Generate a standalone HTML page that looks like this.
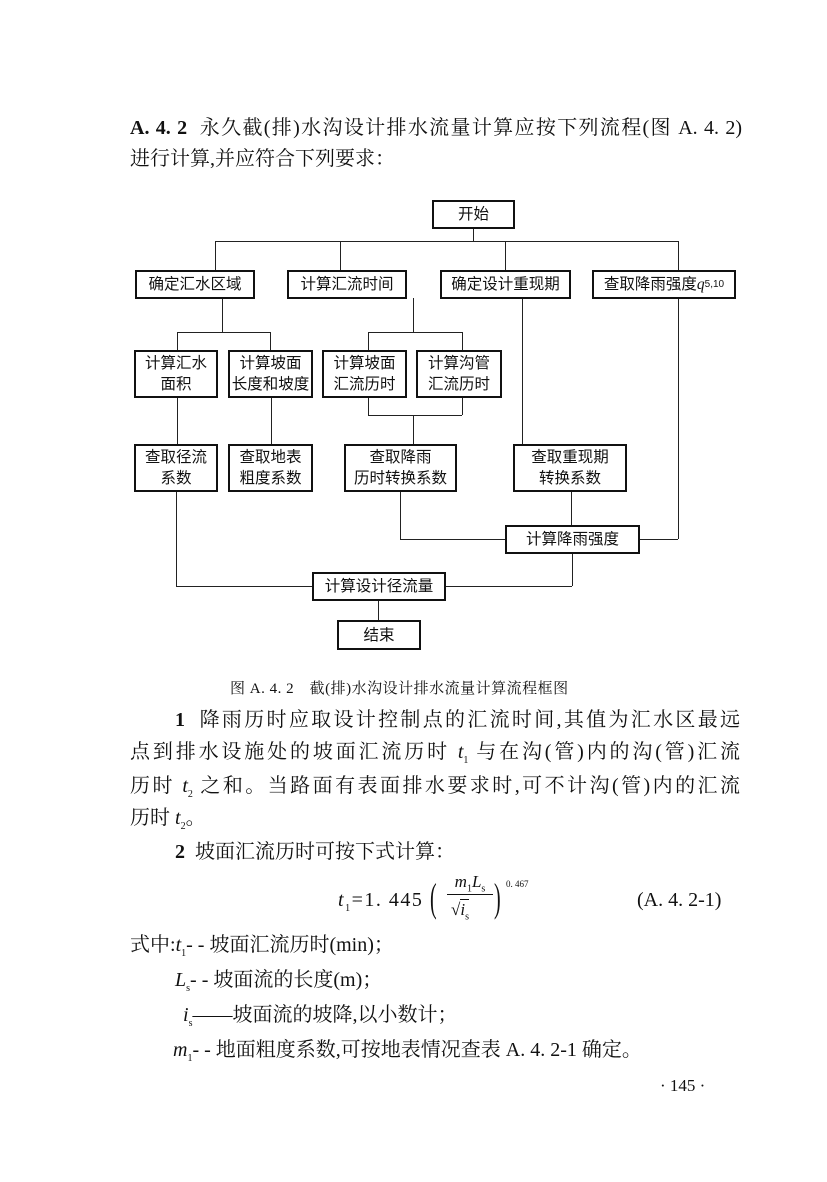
<!DOCTYPE html>
<html><head><meta charset="utf-8"><style>
body{margin:0;background:#fff;}
#p{position:relative;width:827px;height:1182px;overflow:hidden;font-family:"Liberation Serif","Noto Serif CJK SC",serif;color:#111;}
.t{position:absolute;font-size:20px;line-height:24px;white-space:nowrap;}
.j{text-align:justify;text-align-last:justify;}
.b{position:absolute;border:2.5px solid #111;box-sizing:border-box;background:#fff;display:flex;align-items:center;justify-content:center;text-align:center;font-family:"Liberation Sans","WenQuanYi Zen Hei","Noto Sans CJK SC",sans-serif;font-size:15.5px;line-height:21px;}
.h{position:absolute;height:0;border-top:1.3px solid #222;}
.v{position:absolute;width:0;border-left:1.3px solid #222;}
i{font-style:italic;}
sub{font-size:10px;}
</style></head><body><div id="p">
<div class="t j" style="left:130px;top:116px;width:612px;"><b>A. 4. 2</b>&nbsp;&nbsp;永久截(排)水沟设计排水流量计算应按下列流程(图 A. 4. 2)</div>
<div class="t" style="left:130px;top:147px;">进行计算,并应符合下列要求：</div>

<!-- connectors -->
<div class="v" style="left:473px;top:228px;height:13px"></div>
<div class="h" style="left:215px;top:241px;width:463px"></div>
<div class="v" style="left:215px;top:241px;height:29px"></div>
<div class="v" style="left:340px;top:241px;height:29px"></div>
<div class="v" style="left:505px;top:241px;height:29px"></div>
<div class="v" style="left:678px;top:241px;height:29px"></div>
<div class="v" style="left:222px;top:298px;height:34px"></div>
<div class="h" style="left:177px;top:332px;width:93px"></div>
<div class="v" style="left:177px;top:332px;height:20px"></div>
<div class="v" style="left:270px;top:332px;height:20px"></div>
<div class="v" style="left:413px;top:298px;height:34px"></div>
<div class="h" style="left:368px;top:332px;width:94px"></div>
<div class="v" style="left:368px;top:332px;height:83px"></div>
<div class="v" style="left:462px;top:332px;height:83px"></div>
<div class="h" style="left:368px;top:415px;width:94px"></div>
<div class="v" style="left:413px;top:415px;height:29px"></div>
<div class="v" style="left:177px;top:397px;height:47px"></div>
<div class="v" style="left:271px;top:397px;height:47px"></div>
<div class="v" style="left:522px;top:298px;height:146px"></div>
<div class="v" style="left:678px;top:298px;height:241px"></div>
<div class="h" style="left:640px;top:539px;width:38px"></div>
<div class="v" style="left:400px;top:491px;height:48px"></div>
<div class="h" style="left:400px;top:539px;width:106px"></div>
<div class="v" style="left:571px;top:491px;height:34px"></div>
<div class="v" style="left:176px;top:491px;height:95px"></div>
<div class="h" style="left:176px;top:586px;width:137px"></div>
<div class="v" style="left:572px;top:553px;height:33px"></div>
<div class="h" style="left:446px;top:586px;width:126px"></div>
<div class="v" style="left:378px;top:600px;height:20px"></div>

<!-- boxes -->
<div class="b" style="left:432px;top:200px;width:83px;height:29px">开始</div>
<div class="b" style="left:135px;top:270px;width:120px;height:29px">确定汇水区域</div>
<div class="b" style="left:287px;top:270px;width:120px;height:29px">计算汇流时间</div>
<div class="b" style="left:440px;top:270px;width:131px;height:29px">确定设计重现期</div>
<div class="b" style="left:592px;top:270px;width:144px;height:29px">查取降雨强度<i style="font-family:'Liberation Serif',serif">q</i><sub>5,10</sub></div>
<div class="b" style="left:134px;top:350px;width:84px;height:48px">计算汇水<br>面积</div>
<div class="b" style="left:228px;top:350px;width:85px;height:48px">计算坡面<br>长度和坡度</div>
<div class="b" style="left:322px;top:350px;width:85px;height:48px">计算坡面<br>汇流历时</div>
<div class="b" style="left:416px;top:350px;width:86px;height:48px">计算沟管<br>汇流历时</div>
<div class="b" style="left:134px;top:444px;width:84px;height:48px">查取径流<br>系数</div>
<div class="b" style="left:228px;top:444px;width:85px;height:48px">查取地表<br>粗度系数</div>
<div class="b" style="left:344px;top:444px;width:113px;height:48px">查取降雨<br>历时转换系数</div>
<div class="b" style="left:513px;top:444px;width:114px;height:48px">查取重现期<br>转换系数</div>
<div class="b" style="left:505px;top:525px;width:135px;height:29px">计算降雨强度</div>
<div class="b" style="left:312px;top:572px;width:134px;height:29px">计算设计径流量</div>
<div class="b" style="left:337px;top:620px;width:84px;height:30px">结束</div>

<div class="t" style="left:230px;top:677px;font-size:15px;letter-spacing:0.5px;">图 A. 4. 2　截(排)水沟设计排水流量计算流程框图</div>

<div class="t j" style="left:175px;top:708px;width:565px;"><b>1</b>&nbsp;&nbsp;降雨历时应取设计控制点的汇流时间,其值为汇水区最远</div>
<div class="t j" style="left:130px;top:740px;width:610px;">点到排水设施处的坡面汇流历时 <i>t</i><sub>1</sub> 与在沟(管)内的沟(管)汇流</div>
<div class="t j" style="left:130px;top:774px;width:610px;">历时 <i>t</i><sub>2</sub> 之和。当路面有表面排水要求时,可不计沟(管)内的汇流</div>
<div class="t" style="left:130px;top:806px;">历时 <i>t</i><sub>2</sub>。</div>
<div class="t" style="left:175px;top:840px;"><b>2</b>&nbsp;&nbsp;坡面汇流历时可按下式计算：</div>

<div class="t" style="left:338px;top:888px;letter-spacing:1.5px;"><i>t</i><sub>1</sub>=1. 445</div>
<div class="t" style="left:430px;top:876px;font-size:40px;line-height:44px;transform:scaleX(0.5);transform-origin:left;">(</div>
<div class="t" style="left:446px;top:870px;font-size:17px;width:48px;text-align:center;"><i>m</i><sub>1</sub><i>L</i><sub>s</sub></div>
<div class="h" style="left:447px;top:894px;width:46px;border-top:1px solid #111"></div>
<div class="t" style="left:451px;top:898px;font-size:17px;">√<span style="border-top:1px solid #111"><i>i</i><sub>s</sub></span></div>
<div class="t" style="left:494px;top:876px;font-size:40px;line-height:44px;transform:scaleX(0.5);transform-origin:left;">)</div>
<div class="t" style="left:506px;top:872px;font-size:9px;">0. 467</div>
<div class="t" style="left:637px;top:888px;">(A. 4. 2-1)</div>

<div class="t" style="left:130px;top:933px;">式中:<i>t</i><sub>1</sub>- - 坡面汇流历时(min)；</div>
<div class="t" style="left:175px;top:968px;"><i>L</i><sub>s</sub>- - 坡面流的长度(m)；</div>
<div class="t" style="left:183px;top:1003px;"><i>i</i><sub>s</sub>——坡面流的坡降,以小数计；</div>
<div class="t" style="left:173px;top:1038px;"><i>m</i><sub>1</sub>- - 地面粗度系数,可按地表情况查表 A. 4. 2-1 确定。</div>
<div class="t" style="left:660px;top:1074px;font-size:17px;">· 145 ·</div>
</div></body></html>
